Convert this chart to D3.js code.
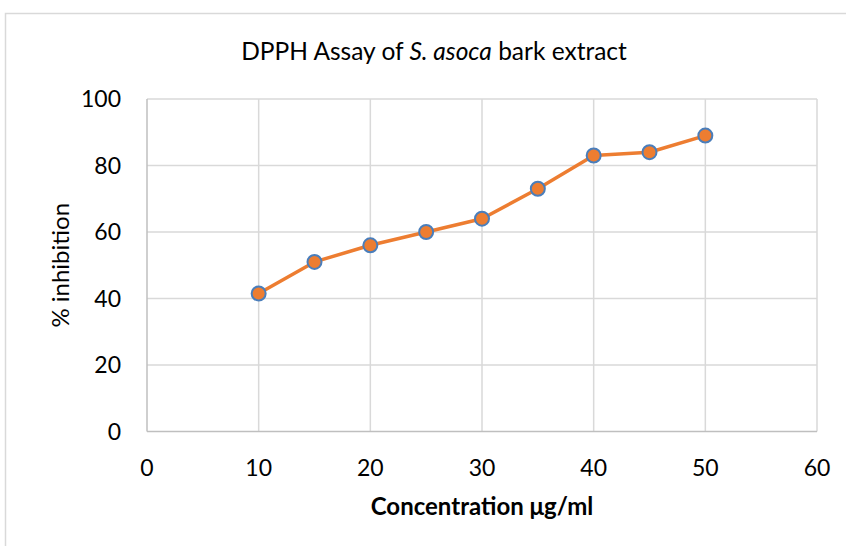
<!DOCTYPE html>
<html>
<head>
<meta charset="utf-8">
<script src="https://cdn.jsdelivr.net/npm/d3@7"></script>
<style>
  body { margin: 0; background: #fff; }
  text { font-family: Lato, "Open Sans", sans-serif; fill: #000; }
</style>
</head>
<body>
<div id="chart"></div>
<script>
// data
const concentration = [10, 15, 20, 25, 30, 35, 40, 45, 50];
const inhibition = [41.5, 51, 56, 60, 64, 73, 83, 84, 89];
const xTicks = [0, 10, 20, 30, 40, 50, 60];
const yTicks = [0, 20, 40, 60, 80, 100];

const W = 846, H = 546;
const margin = { top: 99, right: 29, bottom: 114.5, left: 147 },
    width = W - margin.left - margin.right,
    height = H - margin.top - margin.bottom;

const root = d3.select("#chart").append("svg")
    .attr("width", W)
    .attr("height", H);

// chart area border
root.append("rect")
    .attr("x", 5.5).attr("y", 13.5)
    .attr("width", 1000).attr("height", 1000)
    .attr("fill", "none")
    .attr("stroke", "#d9d9d9")
    .attr("stroke-width", 1.5);

const svg = root.append("g")
    .attr("transform", `translate(${margin.left},${margin.top})`);

const x = d3.scaleLinear().domain([0, 60]).range([0, width]);
const y = d3.scaleLinear().domain([0, 100]).range([height, 0]);

// gridlines
svg.selectAll(".vgrid")
    .data(xTicks.slice(1))
    .enter().append("line")
    .attr("x1", d => x(d)).attr("x2", d => x(d))
    .attr("y1", 0).attr("y2", height)
    .attr("stroke", "#d9d9d9").attr("stroke-width", 1.5);

svg.selectAll(".hgrid")
    .data(yTicks.slice(1))
    .enter().append("line")
    .attr("x1", 0).attr("x2", width)
    .attr("y1", d => y(d)).attr("y2", d => y(d))
    .attr("stroke", "#d9d9d9").attr("stroke-width", 1.5);

// axes lines
svg.append("line")
    .attr("x1", 0).attr("x2", 0).attr("y1", 0).attr("y2", height)
    .attr("stroke", "#bfbfbf").attr("stroke-width", 1.5);
svg.append("line")
    .attr("x1", 0).attr("x2", width).attr("y1", height).attr("y2", height)
    .attr("stroke", "#bfbfbf").attr("stroke-width", 1.5);

// tick labels
svg.selectAll(".xlab")
    .data(xTicks)
    .enter().append("text")
    .attr("x", d => x(d))
    .attr("y", height + 44)
    .attr("text-anchor", "middle")
    .style("font-size", "23px")
    .text(d => d);

svg.selectAll(".ylab")
    .data(yTicks)
    .enter().append("text")
    .attr("x", -26)
    .attr("y", d => y(d) + 8)
    .attr("text-anchor", "end")
    .style("font-size", "23px")
    .text(d => d);

// line + markers
const pts = concentration.map((c, i) => ({ c: c, v: inhibition[i] }));

svg.append("path")
    .datum(pts)
    .attr("fill", "none")
    .attr("stroke", "#ed7d31")
    .attr("stroke-width", 3.5)
    .attr("stroke-linejoin", "round")
    .attr("d", d3.line().x(d => x(d.c)).y(d => y(d.v)));

svg.selectAll(".pt")
    .data(pts)
    .enter().append("circle")
    .attr("cx", d => x(d.c))
    .attr("cy", d => y(d.v))
    .attr("r", 7)
    .attr("fill", "#ed7d31")
    .attr("stroke", "#4a7ebb")
    .attr("stroke-width", 2);

// title
const title = root.append("text")
    .attr("x", 434)
    .attr("y", 60)
    .attr("text-anchor", "middle")
    .style("font-size", "24.5px");
title.append("tspan").text("DPPH Assay of ");
title.append("tspan").style("font-style", "italic").text("S. asoca");
title.append("tspan").text(" bark extract");

// axis titles
svg.append("text")
    .attr("x", width / 2)
    .attr("y", height + 83)
    .attr("text-anchor", "middle")
    .style("font-size", "24px")
    .style("font-weight", "bold")
    .text("Concentration μg/ml");

svg.append("text")
    .attr("transform", `translate(-78,${height / 2}) rotate(-90)`)
    .attr("text-anchor", "middle")
    .style("font-size", "24px")
    .text("% inhibition");
</script>
</body>
</html>
